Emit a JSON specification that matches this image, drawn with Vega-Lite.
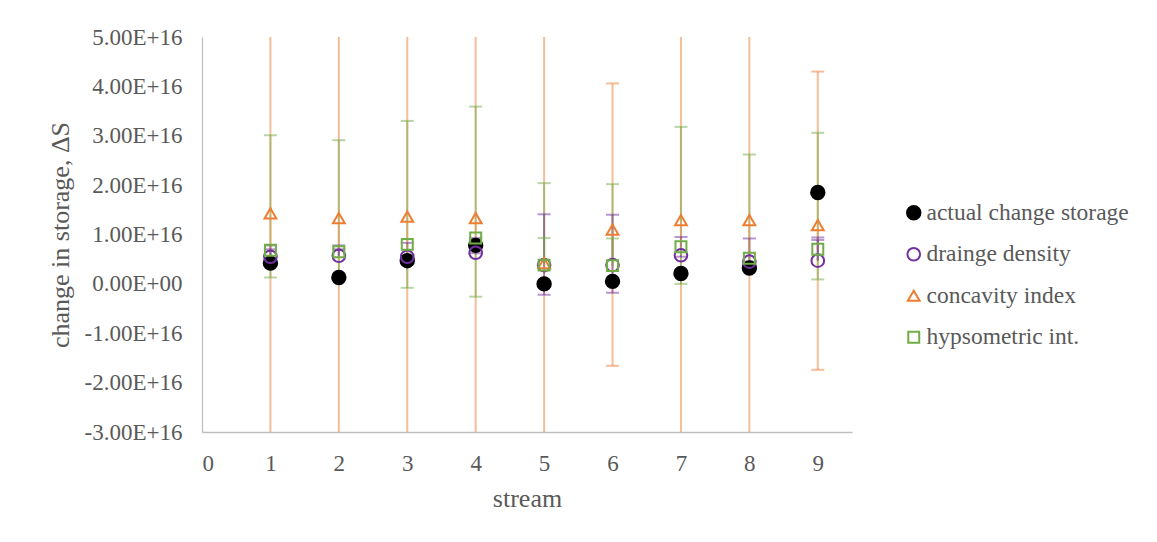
{
  "$schema": "https://vega.github.io/schema/vega-lite/v6.json",
  "width": 650,
  "height": 395,
  "autosize": {"type": "none"},
  "padding": {"left": 202, "top": 37, "right": 305, "bottom": 110},
  "background": "white",
  "config": {
    "view": {"stroke": null},
    "font": "Liberation Serif",
    "axis": {
      "grid": false,
      "ticks": false,
      "domainColor": "#BFBFBF",
      "domainWidth": 1.3,
      "labelFont": "Liberation Serif",
      "labelFontSize": 23,
      "labelColor": "#595959",
      "titleFont": "Liberation Serif",
      "titleFontSize": 26,
      "titleFontWeight": "normal",
      "titleColor": "#595959"
    },
    "legend": {
      "orient": "none",
      "legendX": 700,
      "legendY": 164,
      "padding": 0,
      "symbolStrokeWidth": 2,
      "rowPadding": 16.5,
      "labelOffset": 1,
      "labelFont": "Liberation Serif",
      "labelFontSize": 23.5,
      "labelColor": "#595959",
      "labelLimit": 400
    }
  },
  "datasets": {
    "points": [
      {"stream": 1, "series": "actual change storage", "value": 4.2e15},
      {"stream": 2, "series": "actual change storage", "value": 1.3e15},
      {"stream": 3, "series": "actual change storage", "value": 4.7e15},
      {"stream": 4, "series": "actual change storage", "value": 7.8e15},
      {"stream": 5, "series": "actual change storage", "value": 0},
      {"stream": 6, "series": "actual change storage", "value": 5e14},
      {"stream": 7, "series": "actual change storage", "value": 2.1e15},
      {"stream": 8, "series": "actual change storage", "value": 3.2e15},
      {"stream": 9, "series": "actual change storage", "value": 1.85e16},
      {"stream": 1, "series": "drainge density", "value": 5.5e15},
      {"stream": 2, "series": "drainge density", "value": 5.7e15},
      {"stream": 3, "series": "drainge density", "value": 5.5e15},
      {"stream": 4, "series": "drainge density", "value": 6.3e15},
      {"stream": 5, "series": "drainge density", "value": 3.8e15},
      {"stream": 6, "series": "drainge density", "value": 3.8e15},
      {"stream": 7, "series": "drainge density", "value": 5.8e15},
      {"stream": 8, "series": "drainge density", "value": 4.5e15},
      {"stream": 9, "series": "drainge density", "value": 4.7e15},
      {"stream": 1, "series": "concavity index", "value": 1.43e16},
      {"stream": 2, "series": "concavity index", "value": 1.33e16},
      {"stream": 3, "series": "concavity index", "value": 1.36e16},
      {"stream": 4, "series": "concavity index", "value": 1.33e16},
      {"stream": 5, "series": "concavity index", "value": 4.2e15},
      {"stream": 6, "series": "concavity index", "value": 1.10e16},
      {"stream": 7, "series": "concavity index", "value": 1.29e16},
      {"stream": 8, "series": "concavity index", "value": 1.29e16},
      {"stream": 9, "series": "concavity index", "value": 1.19e16},
      {"stream": 1, "series": "hypsometric int.", "value": 6.8e15},
      {"stream": 2, "series": "hypsometric int.", "value": 6.5e15},
      {"stream": 3, "series": "hypsometric int.", "value": 8.0e15},
      {"stream": 4, "series": "hypsometric int.", "value": 9.3e15},
      {"stream": 5, "series": "hypsometric int.", "value": 3.8e15},
      {"stream": 6, "series": "hypsometric int.", "value": 3.7e15},
      {"stream": 7, "series": "hypsometric int.", "value": 7.5e15},
      {"stream": 8, "series": "hypsometric int.", "value": 5.2e15},
      {"stream": 9, "series": "hypsometric int.", "value": 7.0e15}
    ],
    "errors": [
      {"stream": 1, "series": "concavity index", "value": 1.43e16, "low": -4.5e16, "high": 6.5e16},
      {"stream": 2, "series": "concavity index", "value": 1.33e16, "low": -4.5e16, "high": 6.5e16},
      {"stream": 3, "series": "concavity index", "value": 1.36e16, "low": -4.5e16, "high": 6.5e16},
      {"stream": 4, "series": "concavity index", "value": 1.33e16, "low": -4.5e16, "high": 6.5e16},
      {"stream": 5, "series": "concavity index", "value": 4.2e15, "low": -4.5e16, "high": 6.5e16},
      {"stream": 6, "series": "concavity index", "value": 1.10e16, "low": -1.66e16, "high": 4.06e16},
      {"stream": 7, "series": "concavity index", "value": 1.29e16, "low": -4.5e16, "high": 6.5e16},
      {"stream": 8, "series": "concavity index", "value": 1.29e16, "low": -4.5e16, "high": 6.5e16},
      {"stream": 9, "series": "concavity index", "value": 1.19e16, "low": -1.74e16, "high": 4.30e16},
      {"stream": 1, "series": "hypsometric int.", "value": 6.8e15, "low": 1.3e15, "high": 3.01e16},
      {"stream": 2, "series": "hypsometric int.", "value": 6.5e15, "low": 1.3e15, "high": 2.91e16},
      {"stream": 3, "series": "hypsometric int.", "value": 8.0e15, "low": -8e14, "high": 3.30e16},
      {"stream": 4, "series": "hypsometric int.", "value": 9.3e15, "low": -2.6e15, "high": 3.59e16},
      {"stream": 5, "series": "hypsometric int.", "value": 3.8e15, "low": 9.3e15, "high": 2.04e16},
      {"stream": 6, "series": "hypsometric int.", "value": 3.7e15, "low": 9.2e15, "high": 2.02e16},
      {"stream": 7, "series": "hypsometric int.", "value": 7.5e15, "low": 0, "high": 3.18e16},
      {"stream": 8, "series": "hypsometric int.", "value": 5.2e15, "low": 4.0e15, "high": 2.62e16},
      {"stream": 9, "series": "hypsometric int.", "value": 7.0e15, "low": 9e14, "high": 3.06e16},
      {"stream": 1, "series": "drainge density", "value": 5.5e15, "low": 7.0e15, "high": 7.8e15},
      {"stream": 2, "series": "drainge density", "value": 5.7e15, "low": 7.0e15, "high": 7.8e15},
      {"stream": 3, "series": "drainge density", "value": 5.5e15, "low": 5.2e15, "high": 8.3e15},
      {"stream": 4, "series": "drainge density", "value": 6.3e15, "low": 6.2e15, "high": 9.3e15},
      {"stream": 5, "series": "drainge density", "value": 3.8e15, "low": -2.2e15, "high": 1.41e16},
      {"stream": 6, "series": "drainge density", "value": 3.8e15, "low": -1.8e15, "high": 1.40e16},
      {"stream": 7, "series": "drainge density", "value": 5.8e15, "low": 5.5e15, "high": 9.5e15},
      {"stream": 8, "series": "drainge density", "value": 4.5e15, "low": 4.5e15, "high": 9.2e15},
      {"stream": 9, "series": "drainge density", "value": 4.7e15, "low": 8.9e15, "high": 9.4e15}
    ]
  },
  "layer": [
    {
      "data": {"name": "errors"},
      "mark": {"type": "rule", "strokeWidth": 2, "strokeOpacity": 0.5, "clip": true},
      "encoding": {
        "x": {"field": "stream", "type": "quantitative", "scale": {"domain": [0, 9.5], "nice": false}, "axis": {"values": [0, 1, 2, 3, 4, 5, 6, 7, 8, 9], "format": "d", "labelPadding": 20, "title": "stream", "titlePadding": 10}},
        "y": {"field": "value", "type": "quantitative", "scale": {"domain": [-3e16, 5e16], "nice": false, "zero": false}, "axis": {"values": [-3e16, -2e16, -1e16, 0, 1e16, 2e16, 3e16, 4e16, 5e16], "labelExpr": "datum.value == 0 ? '0.00E+00' : (datum.value < 0 ? '-' : '') + format(abs(datum.value) / 1e16, '.2f') + 'E+16'", "labelPadding": 20, "title": "change in storage, ΔS", "titlePadding": 11}},
        "y2": {"field": "high"},
        "stroke": {"condition": [{"test": "datum.series == 'concavity index'", "value": "#ED7D31"}, {"test": "datum.series == 'hypsometric int.'", "value": "#70AD47"}], "value": "#7030A0"}
      }
    },
    {
      "data": {"name": "errors"},
      "mark": {"type": "rule", "strokeWidth": 2, "strokeOpacity": 0.5, "clip": true},
      "encoding": {
        "x": {"field": "stream", "type": "quantitative"},
        "y": {"field": "value", "type": "quantitative"},
        "y2": {"field": "low"},
        "stroke": {"condition": [{"test": "datum.series == 'concavity index'", "value": "#ED7D31"}, {"test": "datum.series == 'hypsometric int.'", "value": "#70AD47"}], "value": "#7030A0"}
      }
    },
    {
      "data": {"name": "errors"},
      "mark": {"type": "tick", "orient": "horizontal", "thickness": 2, "size": 13, "opacity": 0.5, "clip": true},
      "encoding": {
        "x": {"field": "stream", "type": "quantitative"},
        "y": {"field": "high", "type": "quantitative"},
        "color": {"condition": [{"test": "datum.series == 'concavity index'", "value": "#ED7D31"}, {"test": "datum.series == 'hypsometric int.'", "value": "#70AD47"}], "value": "#7030A0"}
      }
    },
    {
      "data": {"name": "errors"},
      "mark": {"type": "tick", "orient": "horizontal", "thickness": 2, "size": 13, "opacity": 0.5, "clip": true},
      "encoding": {
        "x": {"field": "stream", "type": "quantitative"},
        "y": {"field": "low", "type": "quantitative"},
        "color": {"condition": [{"test": "datum.series == 'concavity index'", "value": "#ED7D31"}, {"test": "datum.series == 'hypsometric int.'", "value": "#70AD47"}], "value": "#7030A0"}
      }
    },
    {
      "data": {"name": "points"},
      "mark": {"type": "point", "strokeWidth": 2, "opacity": 1},
      "encoding": {
        "x": {"field": "stream", "type": "quantitative"},
        "y": {"field": "value", "type": "quantitative"},
        "shape": {"field": "series", "type": "nominal", "scale": {"domain": ["actual change storage", "drainge density", "concavity index", "hypsometric int."], "range": ["circle", "circle", "triangle-up", "square"]}, "legend": {"title": null}},
        "stroke": {"field": "series", "type": "nominal", "scale": {"domain": ["actual change storage", "drainge density", "concavity index", "hypsometric int."], "range": ["#000000", "#7030A0", "#ED7D31", "#70AD47"]}, "legend": {"title": null}},
        "fill": {"field": "series", "type": "nominal", "scale": {"domain": ["actual change storage", "drainge density", "concavity index", "hypsometric int."], "range": ["#000000", "transparent", "transparent", "transparent"]}, "legend": {"title": null}},
        "size": {"field": "series", "type": "nominal", "scale": {"domain": ["actual change storage", "drainge density", "concavity index", "hypsometric int."], "range": [180, 120, 225, 190]}, "legend": {"title": null}}
      }
    }
  ]
}
